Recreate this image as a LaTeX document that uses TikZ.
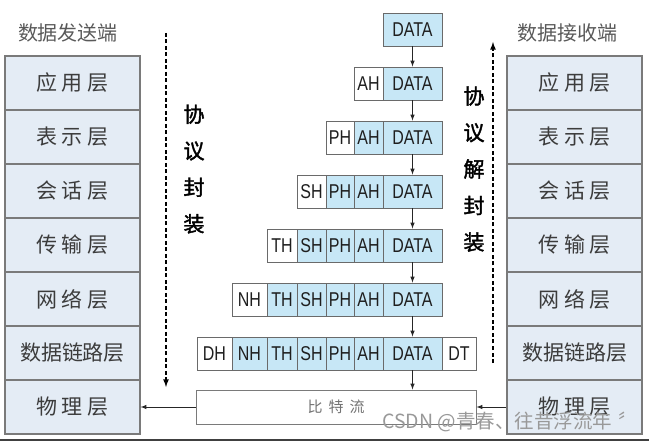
\documentclass[tikz,border=0pt]{standalone}
\usepackage{fontspec}
\usepackage{xcolor}
\usepackage{tikz}
\usetikzlibrary{positioning}
\newfontfamily\cjk{Noto Sans CJK SC}
\newfontfamily\cjkbold[FakeBold=1.8]{Noto Sans CJK SC}
\newfontfamily\cellfont[FakeStretch=0.8]{Liberation Sans}
\definecolor{layfill}{HTML}{E4ECF5}
\definecolor{layline}{HTML}{7A7A7A}
\definecolor{cellblue}{HTML}{C7E7F6}
\definecolor{cellline}{HTML}{6A6A6A}
\definecolor{txtgray}{HTML}{3C3C3C}
\tikzset{
  layer/.style={draw=layline,fill=layfill,line width=1.2pt,minimum width=135pt,minimum height=54pt,inner sep=0pt,text=txtgray,font=\cjk\fontsize{21}{21}\selectfont},
  cell/.style={draw=cellline,line width=0.9pt,minimum height=33pt,inner sep=0pt,text=black!88,font=\cellfont\fontsize{20}{20}\selectfont},
  flow/.style={-latex,line width=1pt,black!85},
  dflow/.style={-latex,line width=1.6pt,dash pattern=on 4pt off 2.5pt},
  vtext/.style={align=center,font=\cjkbold\fontsize{21}{36.5}\selectfont},
  title/.style={text=black!65,font=\cjk\fontsize{20}{20}\selectfont}
}

\begin{document}
\begin{tikzpicture}[x=1pt,y=-1pt]
	\useasboundingbox (0,0) rectangle (649,441);
	\node[title] (sendtitle) at (68,33) {数据发送端};
	\node[title] (recvtitle) at (567,33) {数据接收端};
	\foreach \lay [count=\i] in {应\hspace{5pt}用\hspace{5pt}层,表\hspace{5pt}示\hspace{5pt}层,会\hspace{5pt}话\hspace{5pt}层,传\hspace{5pt}输\hspace{5pt}层,网\hspace{5pt}络\hspace{5pt}层,数据链路层,物\hspace{5pt}理\hspace{5pt}层} {
		\node[layer] (s\i) at (72.5,29+54*\i) {\lay};
		\node[layer] (r\i) at (574.5,29+54*\i) {\lay};
	}
	\foreach \k in {0,...,6}
		\node[cell,fill=cellblue,minimum width=59pt] (data\k) at (412.5,29.5+54*\k) {DATA};
	\foreach \hd/\xl/\w [count=\j] in {AH/354/29,PH/326/28,SH/297/29,TH/267/30,NH/232/35,DH/197/35}
		\foreach \k in {\j,...,6} {
			\ifnum\k=\j \def\cfill{white}\else\def\cfill{cellblue}\fi
			\node[cell,fill=\cfill,minimum width=\w pt] (\hd\k) at (\xl+\w/2,29.5+54*\k) {\hd};
		}
	\node[cell,fill=white,minimum width=34pt] (DT6) at (459,353.5) {DT};
	\foreach \k [evaluate=\k as \n using int(\k+1)] in {0,...,5}
		\draw[flow] (data\k) -- (data\n);
	\node[draw=layline,fill=white,line width=1pt,minimum width=280pt,minimum height=34pt,text=black!55,font=\cjk\fontsize{15}{15}\selectfont] (bits) at (336,407) {比\hspace{6pt}特\hspace{6pt}流};
	\draw[flow] (data6.south) -- (data6.south |- bits.north);
	\draw[flow] (r7) -- (bits);
	\draw[flow] (bits) -- (s7);
	\coordinate (enctop) at (166,33);
	\coordinate (encbot) at (166,387);
	\draw[dflow] (enctop) -- (encbot);
	\coordinate (dectop) at (493,42);
	\coordinate (decbot) at (493,363);
	\draw[dflow] (decbot) -- (dectop);
	\node[vtext] (enclabel) at (194,169) {协\\议\\封\\装};
	\node[vtext] (declabel) at (474,169) {协\\议\\解\\封\\装};
	\node[anchor=west,inner sep=0pt,text=black!40,font=\cjk\fontsize{19.5}{19.5}\selectfont] (mark) at (382,422) {CSDN @青春、往昔浮流年\hspace{6pt}〞};
	\fill[black!75] (0,438.5) rectangle (649,441);
\end{tikzpicture}
\end{document}
